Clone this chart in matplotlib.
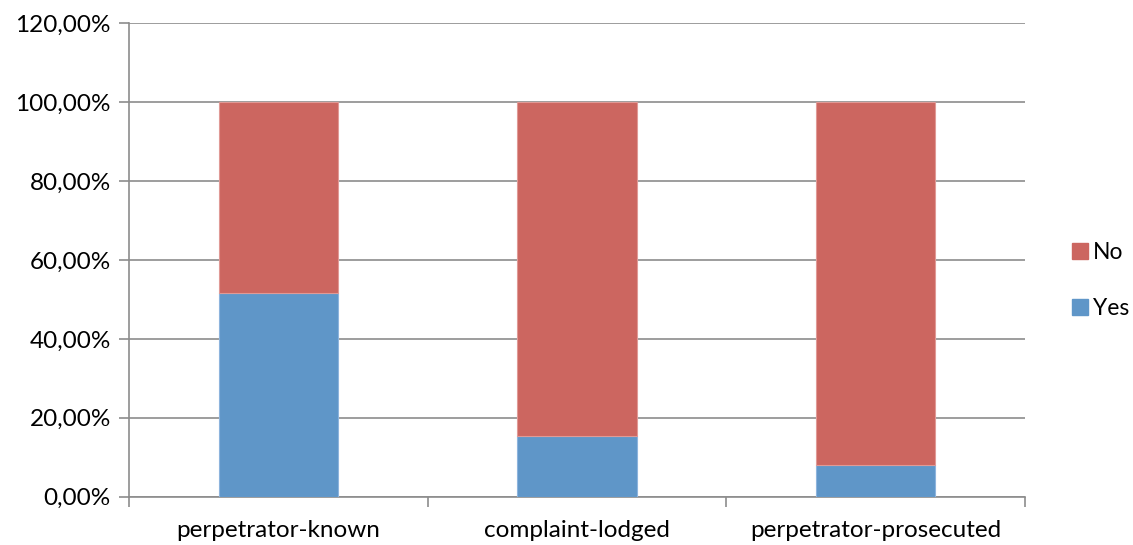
import matplotlib
matplotlib.use("Agg")
import matplotlib.pyplot as plt
from matplotlib.lines import Line2D
from matplotlib.ticker import FuncFormatter, FixedLocator

plt.rcParams['font.family'] = ['Lato', 'DejaVu Sans']

categories = ["perpetrator-known", "complaint-lodged", "perpetrator-prosecuted"]
yes_pct = [51.7, 15.3, 8.0]
no_pct = [100 - v for v in yes_pct]
yticks = [0, 20, 40, 60, 80, 100, 120]

yes_color = "#5F96C8"
no_color = "#CC6660"
axis_grey = "#8C8C8C"
font_size = 17.5

fig = plt.figure(figsize=(11.33, 5.45), dpi=100)
ax = fig.add_axes([0.1139, 0.0886, 0.7908, 0.8686])

x = list(range(len(categories)))
ax.bar(x, yes_pct, width=0.4, color=yes_color, edgecolor="#8DB4DD", linewidth=0.8, zorder=3)
ax.bar(x, no_pct, width=0.4, bottom=yes_pct, color=no_color, edgecolor="#E09A96", linewidth=0.8, zorder=3)

ax.set_xlim(-0.5, 2.5)
ax.set_ylim(0, 120)
ax.set_yticks(yticks)
ax.yaxis.set_major_formatter(FuncFormatter(lambda v, p: f"{v:.2f}%".replace(".", ",")))
ax.grid(axis="y", color=axis_grey, linewidth=1.2, zorder=0)

# category boundaries carry the tick marks; names sit centred between them
ax.xaxis.set_major_locator(FixedLocator([-0.5, 0.5, 1.5, 2.5]))
ax.xaxis.set_major_formatter(FuncFormatter(lambda v, p: ""))
ax.xaxis.set_minor_locator(FixedLocator(x))
ax.set_xticklabels(categories, minor=True)
ax.tick_params(axis="x", which="major", length=7, width=1.2, color=axis_grey, direction="out")
ax.tick_params(axis="x", which="minor", length=0, pad=17, labelsize=font_size)
ax.tick_params(axis="y", length=7, width=1.2, color=axis_grey, direction="out", pad=6, labelsize=font_size)

for side in ("top", "right"):
    ax.spines[side].set_visible(False)
for side in ("left", "bottom"):
    ax.spines[side].set_color(axis_grey)
    ax.spines[side].set_linewidth(1.2)

handles = [
    Line2D([], [], marker="s", linestyle="none", markersize=11, markerfacecolor=no_color, markeredgecolor=no_color),
    Line2D([], [], marker="s", linestyle="none", markersize=11, markerfacecolor=yes_color, markeredgecolor=yes_color),
]
fig.legend(handles, ["No", "Yes"], loc="center left", bbox_to_anchor=(0.935, 0.485),
           frameon=False, fontsize=16.5, handletextpad=0.05, handlelength=1.0,
           labelspacing=1.55, borderaxespad=0)

fig.savefig("out.png", dpi=100)
